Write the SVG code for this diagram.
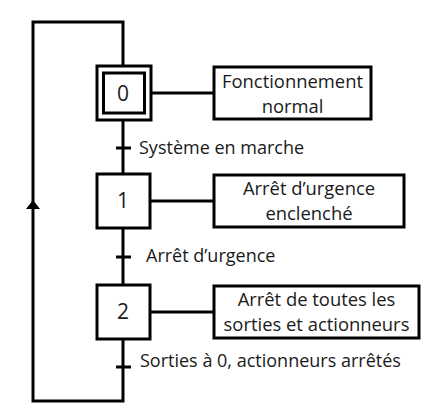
<svg xmlns="http://www.w3.org/2000/svg" width="446" height="410" viewBox="0 0 446 410">
<style>
.box{fill:#fff;stroke:#000;stroke-width:3}
.line{fill:none;stroke:#000;stroke-width:3}
.t{font-family:"Open Sans",sans-serif;font-size:18px;fill:#1a1a1a}
.a{font-family:"Open Sans",sans-serif;font-size:18.4px;fill:#1a1a1a;text-anchor:middle}
.n{font-family:"Open Sans",sans-serif;font-size:21px;fill:#1a1a1a;text-anchor:middle}
</style>
<rect width="446" height="410" fill="#fff"/>
<g id="connectors">
<path class="line" d="M123 66 V22 H33 V401 H123 V339"/>
<path class="line" d="M123 120 V173"/>
<path class="line" d="M123 228 V285"/>
<path d="M33 200 L26 209 L40 209 Z" fill="#000"/>
<path class="line" d="M116 148 H131 M116 257 H131 M116 367 H131"/>
<path class="line" d="M151 93 H214 M151 201 H214 M151 312 H214"/>
<text class="t" x="139" y="154">Système en marche</text>
<text class="t" x="146" y="262">Arrêt d’urgence</text>
<text class="t" x="140" y="367">Sorties à 0, actionneurs arrêtés</text>
</g>
<g id="step0">
<rect class="box" x="97" y="66" width="54" height="54" stroke-width="2.5"/>
<rect class="box" x="103.5" y="73" width="41" height="40" stroke-width="4"/>
<text class="n" x="123" y="101">0</text>
</g>
<g id="action0">
<rect class="box" x="214" y="67" width="157" height="52"/>
<text class="a" x="292.5" y="87.5">Fonctionnement</text>
<text class="a" x="292.5" y="112.5">normal</text>
</g>
<g id="step1">
<rect class="box" x="97" y="174" width="53" height="54"/>
<text class="n" x="123" y="208">1</text>
</g>
<g id="action1">
<rect class="box" x="214" y="175" width="190" height="52"/>
<text class="a" x="309" y="194.5">Arrêt d’urgence</text>
<text class="a" x="309" y="219.5">enclenché</text>
</g>
<g id="step2">
<rect class="box" x="97" y="285" width="53" height="54"/>
<text class="n" x="123" y="319">2</text>
</g>
<g id="action2">
<rect class="box" x="214" y="286" width="205" height="52"/>
<text class="a" x="316.5" y="305.5">Arrêt de toutes les</text>
<text class="a" x="316.5" y="330.5">sorties et actionneurs</text>
</g>
</svg>
